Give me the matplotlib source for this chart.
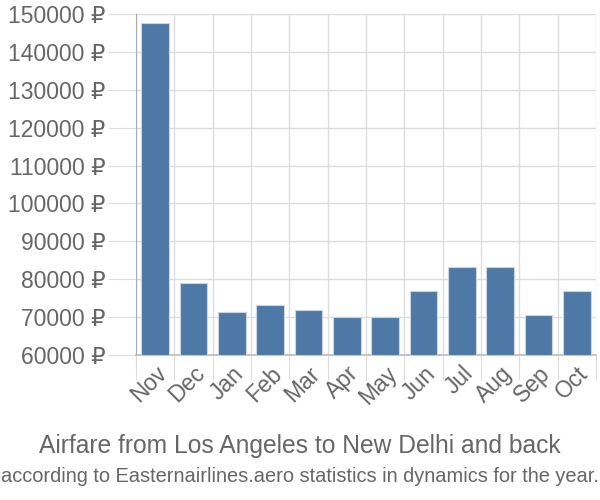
import matplotlib
matplotlib.use('Agg')
import matplotlib.pyplot as plt

plt.rcParams['font.family'] = ['Liberation Sans', 'DejaVu Sans']

months = ['Nov', 'Dec', 'Jan', 'Feb', 'Mar', 'Apr', 'May', 'Jun', 'Jul', 'Aug', 'Sep', 'Oct']
prices = [147500, 79000, 71400, 73100, 71900, 70000, 70000, 76900, 83300, 83300, 70500, 76900]
yticks = [60000, 70000, 80000, 90000, 100000, 110000, 120000, 130000, 140000, 150000]

TEXT = '#666666'
GRID = '#dddddd'

fig = plt.figure(figsize=(6, 5), dpi=100)
ax = fig.add_axes([0.2267, 0.29, 0.7666, 0.682])

x = list(range(len(months)))
base = yticks[0]
ax.bar(x, [p - base for p in prices], bottom=base, width=0.72,
       color='#4e79a7', edgecolor='#c9d6e6', linewidth=0.8, zorder=3)

ax.set_xlim(-0.5, len(months) - 0.5)
ax.set_ylim(yticks[0], yticks[-1])

ax.set_yticks(yticks)
ax.set_yticklabels([f'{v} ₽' for v in yticks])
ax.set_xticks([i - 0.5 for i in range(len(months) + 1)], minor=False)
ax.set_xticklabels([''] * (len(months) + 1))
ax.set_xticks(x, minor=True)
ax.set_xticklabels(months, minor=True, rotation=45, ha='right', va='top',
                   rotation_mode='anchor')

ax.grid(True, which='major', color=GRID, linewidth=1, zorder=0)
ax.tick_params(axis='y', which='major', length=20, color=GRID, labelsize=16.5,
               labelcolor=TEXT, pad=2)
ax.tick_params(axis='x', which='major', length=18, color=GRID)
ax.tick_params(axis='x', which='minor', length=0, labelsize=16.5,
               labelcolor=TEXT, pad=5)

for s in ['top', 'right']:
    ax.spines[s].set_visible(False)
ax.spines['left'].set_color('#aaaaaa')
ax.spines['left'].set_bounds(yticks[0], yticks[-1])
ax.spines['bottom'].set_color('#bbbbbb')
ax.spines['bottom'].set_linewidth(1.2)

fig.text(0.5, 0.107, 'Airfare from Los Angeles to New Delhi and back',
         ha='center', va='center', fontsize=17.7, color=TEXT)
fig.text(0.5, 0.046, 'according to Easternairlines.aero statistics in dynamics for the year.',
         ha='center', va='center', fontsize=14.4, color=TEXT)

fig.savefig('out.png', dpi=100)
